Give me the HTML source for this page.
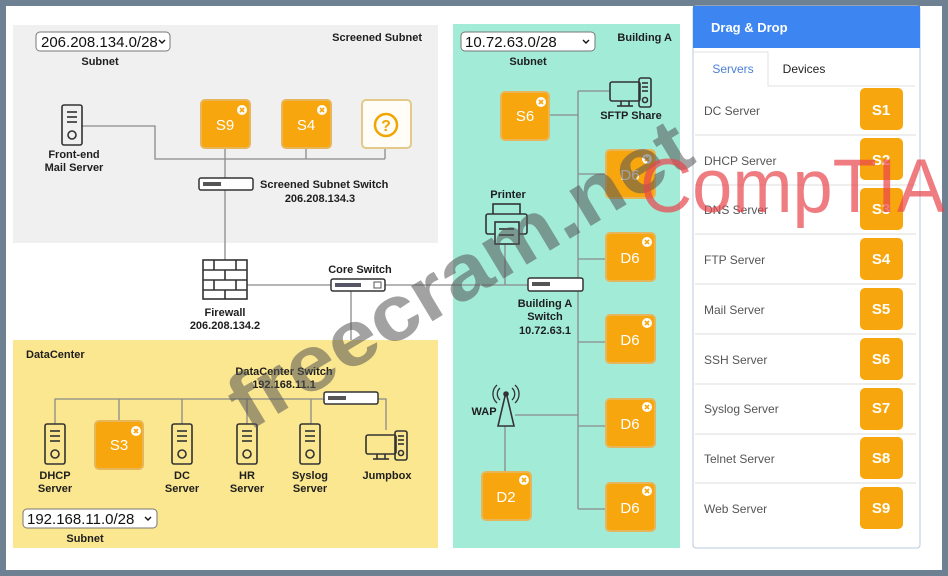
<!DOCTYPE html>
<html><head><meta charset="utf-8"><style>
html,body{margin:0;padding:0;background:#6e8192;}
svg{display:block;}
text{font-family:"Liberation Sans",Arial,sans-serif;}
.b{font-weight:bold;font-size:11px;fill:#1e1e1e;}
.ln{stroke:#8a8a8a;stroke-width:1.3;fill:none;}
.ic{stroke:#333;stroke-width:1.6;fill:none;}
.bx{fill:#f7a70d;stroke:#e8b65a;stroke-width:2;}
.bt{fill:#fff;font-size:15px;text-anchor:middle;}
.sb{fill:#fff;font-size:15px;font-weight:bold;text-anchor:middle;}
.rt{fill:#555;font-size:12px;}
.sep{stroke:#ddd;stroke-width:1;}
</style></head><body>
<svg width="948" height="576" viewBox="0 0 948 576" xmlns="http://www.w3.org/2000/svg">
<defs>
<g id="srv"><rect x="0" y="0" width="20" height="40" rx="2" class="ic" fill="#fff"/><line x1="5" y1="7" x2="15" y2="7" class="ic"/><line x1="5" y1="12" x2="15" y2="12" class="ic"/><line x1="5" y1="17" x2="15" y2="17" class="ic"/><circle cx="10" cy="30" r="4" class="ic"/></g>
<g id="xb"><circle r="5" fill="#fff"/><path d="M-2,-2L2,2M2,-2L-2,2" stroke="#f7a70d" stroke-width="1.6"/></g>
<g id="pc"><rect x="0" y="4" width="30" height="19" rx="2" class="ic"/><line x1="11" y1="23" x2="11" y2="28" class="ic"/><line x1="19" y1="23" x2="19" y2="28" class="ic"/><line x1="7" y1="28" x2="23" y2="28" class="ic"/><rect x="29" y="0" width="12" height="29" rx="2" class="ic" fill="none"/><line x1="32" y1="5" x2="38" y2="5" class="ic"/><line x1="32" y1="9" x2="38" y2="9" class="ic"/><line x1="32" y1="13" x2="38" y2="13" class="ic"/><circle cx="35" cy="22" r="2.5" class="ic"/></g>
</defs>
<rect x="6" y="6" width="936" height="564" fill="#fff"/>

<!-- Screened subnet -->
<rect x="13" y="25" width="425" height="218" fill="#f0f0f0"/>
<rect x="36" y="32" width="134" height="19" rx="4" fill="#fff" stroke="#777"/>
<text x="41" y="47" font-size="15" fill="#111">206.208.134.0/28</text>
<path d="M159,40l3,3l3,-3" stroke="#111" stroke-width="1.4" fill="none"/>
<text x="100" y="65" class="b" text-anchor="middle">Subnet</text>
<text x="422" y="41" class="b" text-anchor="end" font-size="12">Screened Subnet</text>
<polyline points="81,126 155,126 155,159 385,159" class="ln"/>
<line x1="306" y1="148" x2="306" y2="159" class="ln"/>
<line x1="385" y1="148" x2="385" y2="159" class="ln"/>
<line x1="225" y1="148" x2="225" y2="260" class="ln"/>
<use href="#srv" x="62" y="105"/>
<text x="74" y="158" class="b" text-anchor="middle">Front-end</text>
<text x="74" y="171" class="b" text-anchor="middle">Mail Server</text>
<rect x="201" y="100" width="49" height="48" rx="4" class="bx"/><text x="225" y="130" class="bt">S9</text><use href="#xb" x="242" y="110"/>
<rect x="282" y="100" width="49" height="48" rx="4" class="bx"/><text x="306" y="130" class="bt">S4</text><use href="#xb" x="322" y="110"/>
<rect x="362" y="100" width="49" height="48" rx="4" fill="#fffdf5" stroke="#e3c98a" stroke-width="2"/>
<circle cx="386" cy="125" r="11" fill="none" stroke="#f0a500" stroke-width="2.5"/><text x="386" y="131" text-anchor="middle" font-size="16" font-weight="bold" fill="#f0a500">?</text>
<rect x="199" y="178" width="54" height="12" rx="2" fill="#fff" stroke="#333" stroke-width="1.5"/>
<rect x="203" y="182" width="18" height="4" fill="#555"/>
<text x="260" y="188" class="b">Screened Subnet Switch</text>
<text x="320" y="202" class="b" text-anchor="middle">206.208.134.3</text>

<!-- Firewall & core -->
<line x1="247" y1="285" x2="331" y2="285" class="ln"/>
<line x1="385" y1="285" x2="528" y2="285" class="ln"/>
<line x1="351" y1="291" x2="351" y2="392" class="ln"/>
<g class="ic" fill="#fff"><rect x="203" y="260" width="44" height="39" fill="#fff"/>
<line x1="203" y1="270" x2="247" y2="270"/><line x1="203" y1="280" x2="247" y2="280"/><line x1="203" y1="290" x2="247" y2="290"/>
<line x1="214" y1="260" x2="214" y2="270"/><line x1="236" y1="260" x2="236" y2="270"/><line x1="225" y1="270" x2="225" y2="280"/><line x1="214" y1="280" x2="214" y2="290"/><line x1="236" y1="280" x2="236" y2="290"/><line x1="225" y1="290" x2="225" y2="299"/></g>
<text x="225" y="316" class="b" text-anchor="middle">Firewall</text>
<text x="225" y="329" class="b" text-anchor="middle">206.208.134.2</text>
<text x="360" y="273" class="b" text-anchor="middle">Core Switch</text>
<rect x="331" y="279" width="54" height="12" rx="2" fill="#fff" stroke="#333" stroke-width="1.5"/>
<rect x="335" y="283" width="26" height="4" fill="#556"/><rect x="374" y="282" width="7" height="6" fill="none" stroke="#555"/>

<!-- DataCenter -->
<rect x="13" y="340" width="425" height="208" fill="#fbe78f"/>
<text x="26" y="358" class="b" font-size="12">DataCenter</text>
<text x="284" y="375" class="b" text-anchor="middle">DataCenter Switch</text>
<text x="284" y="388" class="b" text-anchor="middle">192.168.11.1</text>
<polyline points="55,424 55,399 324,399" class="ln"/>
<polyline points="378,399 386,399 386,430" class="ln"/>
<line x1="119" y1="399" x2="119" y2="421" class="ln"/>
<line x1="182" y1="399" x2="182" y2="424" class="ln"/>
<line x1="247" y1="399" x2="247" y2="424" class="ln"/>
<line x1="311" y1="399" x2="311" y2="424" class="ln"/>
<rect x="324" y="392" width="54" height="12" rx="2" fill="#fff" stroke="#333" stroke-width="1.5"/>
<rect x="328" y="396" width="18" height="4" fill="#555"/>
<use href="#srv" x="45" y="424"/>
<rect x="95" y="421" width="48" height="48" rx="4" class="bx"/><text x="119" y="450" class="bt">S3</text><use href="#xb" x="136" y="431"/>
<use href="#srv" x="172" y="424"/><use href="#srv" x="237" y="424"/><use href="#srv" x="300" y="424"/>
<use href="#pc" x="366" y="431"/>
<text x="55" y="479" class="b" text-anchor="middle">DHCP</text><text x="55" y="492" class="b" text-anchor="middle">Server</text>
<text x="182" y="479" class="b" text-anchor="middle">DC</text><text x="182" y="492" class="b" text-anchor="middle">Server</text>
<text x="247" y="479" class="b" text-anchor="middle">HR</text><text x="247" y="492" class="b" text-anchor="middle">Server</text>
<text x="310" y="479" class="b" text-anchor="middle">Syslog</text><text x="310" y="492" class="b" text-anchor="middle">Server</text>
<text x="387" y="479" class="b" text-anchor="middle">Jumpbox</text>
<rect x="23" y="509" width="134" height="19" rx="4" fill="#fff" stroke="#777"/>
<text x="27" y="524" font-size="15" fill="#111">192.168.11.0/28</text>
<path d="M145,517l3,3l3,-3" stroke="#111" stroke-width="1.4" fill="none"/>
<text x="85" y="542" class="b" text-anchor="middle">Subnet</text>

<!-- Building A -->
<rect x="453" y="24" width="227" height="524" fill="#a2ecd7"/>
<line x1="453" y1="285" x2="528" y2="285" class="ln"/>
<rect x="461" y="32" width="134" height="19" rx="4" fill="#fff" stroke="#777"/>
<text x="465" y="47" font-size="15" fill="#111">10.72.63.0/28</text>
<path d="M583,40l3,3l3,-3" stroke="#111" stroke-width="1.4" fill="none"/>
<text x="528" y="65" class="b" text-anchor="middle">Subnet</text>
<text x="672" y="41" class="b" text-anchor="end" font-size="12">Building A</text>
<line x1="578" y1="91" x2="578" y2="509" class="ln"/>
<line x1="578" y1="91" x2="609" y2="91" class="ln"/>
<line x1="549" y1="115" x2="578" y2="115" class="ln"/>
<line x1="578" y1="174" x2="605" y2="174" class="ln"/>
<line x1="578" y1="259" x2="605" y2="259" class="ln"/>
<line x1="578" y1="342" x2="605" y2="342" class="ln"/>
<line x1="578" y1="426" x2="605" y2="426" class="ln"/>
<line x1="578" y1="509" x2="605" y2="509" class="ln"/>
<line x1="515" y1="415" x2="578" y2="415" class="ln"/>
<line x1="505" y1="426" x2="505" y2="472" class="ln"/>
<line x1="505" y1="244" x2="505" y2="285" class="ln"/>
<use href="#pc" x="610" y="78"/>
<text x="631" y="119" class="b" text-anchor="middle">SFTP Share</text>
<rect x="501" y="92" width="48" height="48" rx="4" class="bx"/><text x="525" y="121" class="bt">S6</text><use href="#xb" x="541" y="102"/>
<g>
<rect x="606" y="150" width="49" height="48" rx="4" class="bx"/><text x="630" y="180" class="bt">D6</text><use href="#xb" x="647" y="159"/>
<rect x="606" y="233" width="49" height="48" rx="4" class="bx"/><text x="630" y="263" class="bt">D6</text><use href="#xb" x="647" y="242"/>
<rect x="606" y="315" width="49" height="48" rx="4" class="bx"/><text x="630" y="345" class="bt">D6</text><use href="#xb" x="647" y="323"/>
<rect x="606" y="399" width="49" height="48" rx="4" class="bx"/><text x="630" y="429" class="bt">D6</text><use href="#xb" x="647" y="407"/>
<rect x="606" y="483" width="49" height="48" rx="4" class="bx"/><text x="630" y="513" class="bt">D6</text><use href="#xb" x="647" y="491"/>
<rect x="482" y="472" width="49" height="48" rx="4" class="bx"/><text x="506" y="502" class="bt">D2</text><use href="#xb" x="524" y="480"/>
</g>
<text x="508" y="198" class="b" text-anchor="middle">Printer</text>
<g class="ic"><rect x="493" y="204" width="27" height="12" fill="#a2ecd7"/><rect x="486" y="214" width="41" height="20" rx="2" fill="#a2ecd7"/><rect x="495" y="222" width="24" height="22" fill="#a2ecd7"/><line x1="499" y1="229" x2="514" y2="229"/><line x1="499" y1="235" x2="514" y2="235"/></g>
<text x="484" y="415" class="b" text-anchor="middle">WAP</text>
<g class="ic"><path d="M506,392 L498,426 L514,426 Z"/><circle cx="506" cy="394" r="2" fill="#333"/><path d="M500,388a8,8 0 0 0 0,12M512,388a8,8 0 0 1 0,12M497,385a12,12 0 0 0 0,18M515,385a12,12 0 0 1 0,18" stroke-width="1.3"/></g>
<rect x="528" y="278" width="55" height="13" rx="2" fill="#fff" stroke="#333" stroke-width="1.5"/>
<rect x="532" y="282" width="18" height="4" fill="#555"/>
<text x="545" y="307" class="b" text-anchor="middle">Building A</text>
<text x="545" y="320" class="b" text-anchor="middle">Switch</text>
<text x="545" y="334" class="b" text-anchor="middle">10.72.63.1</text>

<!-- Drag & Drop -->
<rect x="693" y="6" width="227" height="542" rx="3" fill="#fff" stroke="#b8c8dc"/>
<rect x="693" y="6" width="227" height="42" fill="#3d85f0"/>
<text x="711" y="32" fill="#fff" font-size="13" font-weight="bold">Drag &amp; Drop</text>
<path d="M693,52 L768,52 L768,86 L915,86" fill="none" stroke="#e2e2e2"/>
<text x="733" y="73" font-size="12" fill="#4a7fd6" text-anchor="middle">Servers</text>
<text x="804" y="73" font-size="12" fill="#222" text-anchor="middle">Devices</text>
<g class="sep">
<line x1="695" y1="135" x2="916" y2="135"/><line x1="695" y1="185" x2="916" y2="185"/><line x1="695" y1="234" x2="916" y2="234"/><line x1="695" y1="284" x2="916" y2="284"/><line x1="695" y1="334" x2="916" y2="334"/><line x1="695" y1="384" x2="916" y2="384"/><line x1="695" y1="434" x2="916" y2="434"/><line x1="695" y1="483" x2="916" y2="483"/>
</g>
<g>
<text x="704" y="115" class="rt">DC Server</text>
<text x="704" y="165" class="rt">DHCP Server</text>
<text x="704" y="214" class="rt">DNS Server</text>
<text x="704" y="264" class="rt">FTP Server</text>
<text x="704" y="314" class="rt">Mail Server</text>
<text x="704" y="364" class="rt">SSH Server</text>
<text x="704" y="413" class="rt">Syslog Server</text>
<text x="704" y="463" class="rt">Telnet Server</text>
<text x="704" y="513" class="rt">Web Server</text>
</g>
<g>
<rect x="860" y="88" width="43" height="42" rx="5" fill="#f7a70d"/><text x="881" y="115" class="sb">S1</text>
<rect x="860" y="138" width="43" height="42" rx="5" fill="#f7a70d"/><text x="881" y="165" class="sb">S2</text>
<rect x="860" y="188" width="43" height="42" rx="5" fill="#f7a70d"/><text x="881" y="214" class="sb">S3</text>
<rect x="860" y="238" width="43" height="42" rx="5" fill="#f7a70d"/><text x="881" y="264" class="sb">S4</text>
<rect x="860" y="288" width="43" height="42" rx="5" fill="#f7a70d"/><text x="881" y="314" class="sb">S5</text>
<rect x="860" y="338" width="43" height="42" rx="5" fill="#f7a70d"/><text x="881" y="364" class="sb">S6</text>
<rect x="860" y="388" width="43" height="42" rx="5" fill="#f7a70d"/><text x="881" y="413" class="sb">S7</text>
<rect x="860" y="437" width="43" height="42" rx="5" fill="#f7a70d"/><text x="881" y="463" class="sb">S8</text>
<rect x="860" y="487" width="43" height="42" rx="5" fill="#f7a70d"/><text x="881" y="513" class="sb">S9</text>
</g>

<!-- watermarks -->
<text x="0" y="0" transform="translate(248,432) rotate(-31)" font-size="78" font-weight="bold" fill="#555" fill-opacity="0.55" textLength="525" lengthAdjust="spacingAndGlyphs">freecram.net</text>
<text x="640" y="212" font-size="76" fill="#e8454c" fill-opacity="0.7" textLength="305" lengthAdjust="spacingAndGlyphs">CompTIA</text>
</svg>
</body></html>
